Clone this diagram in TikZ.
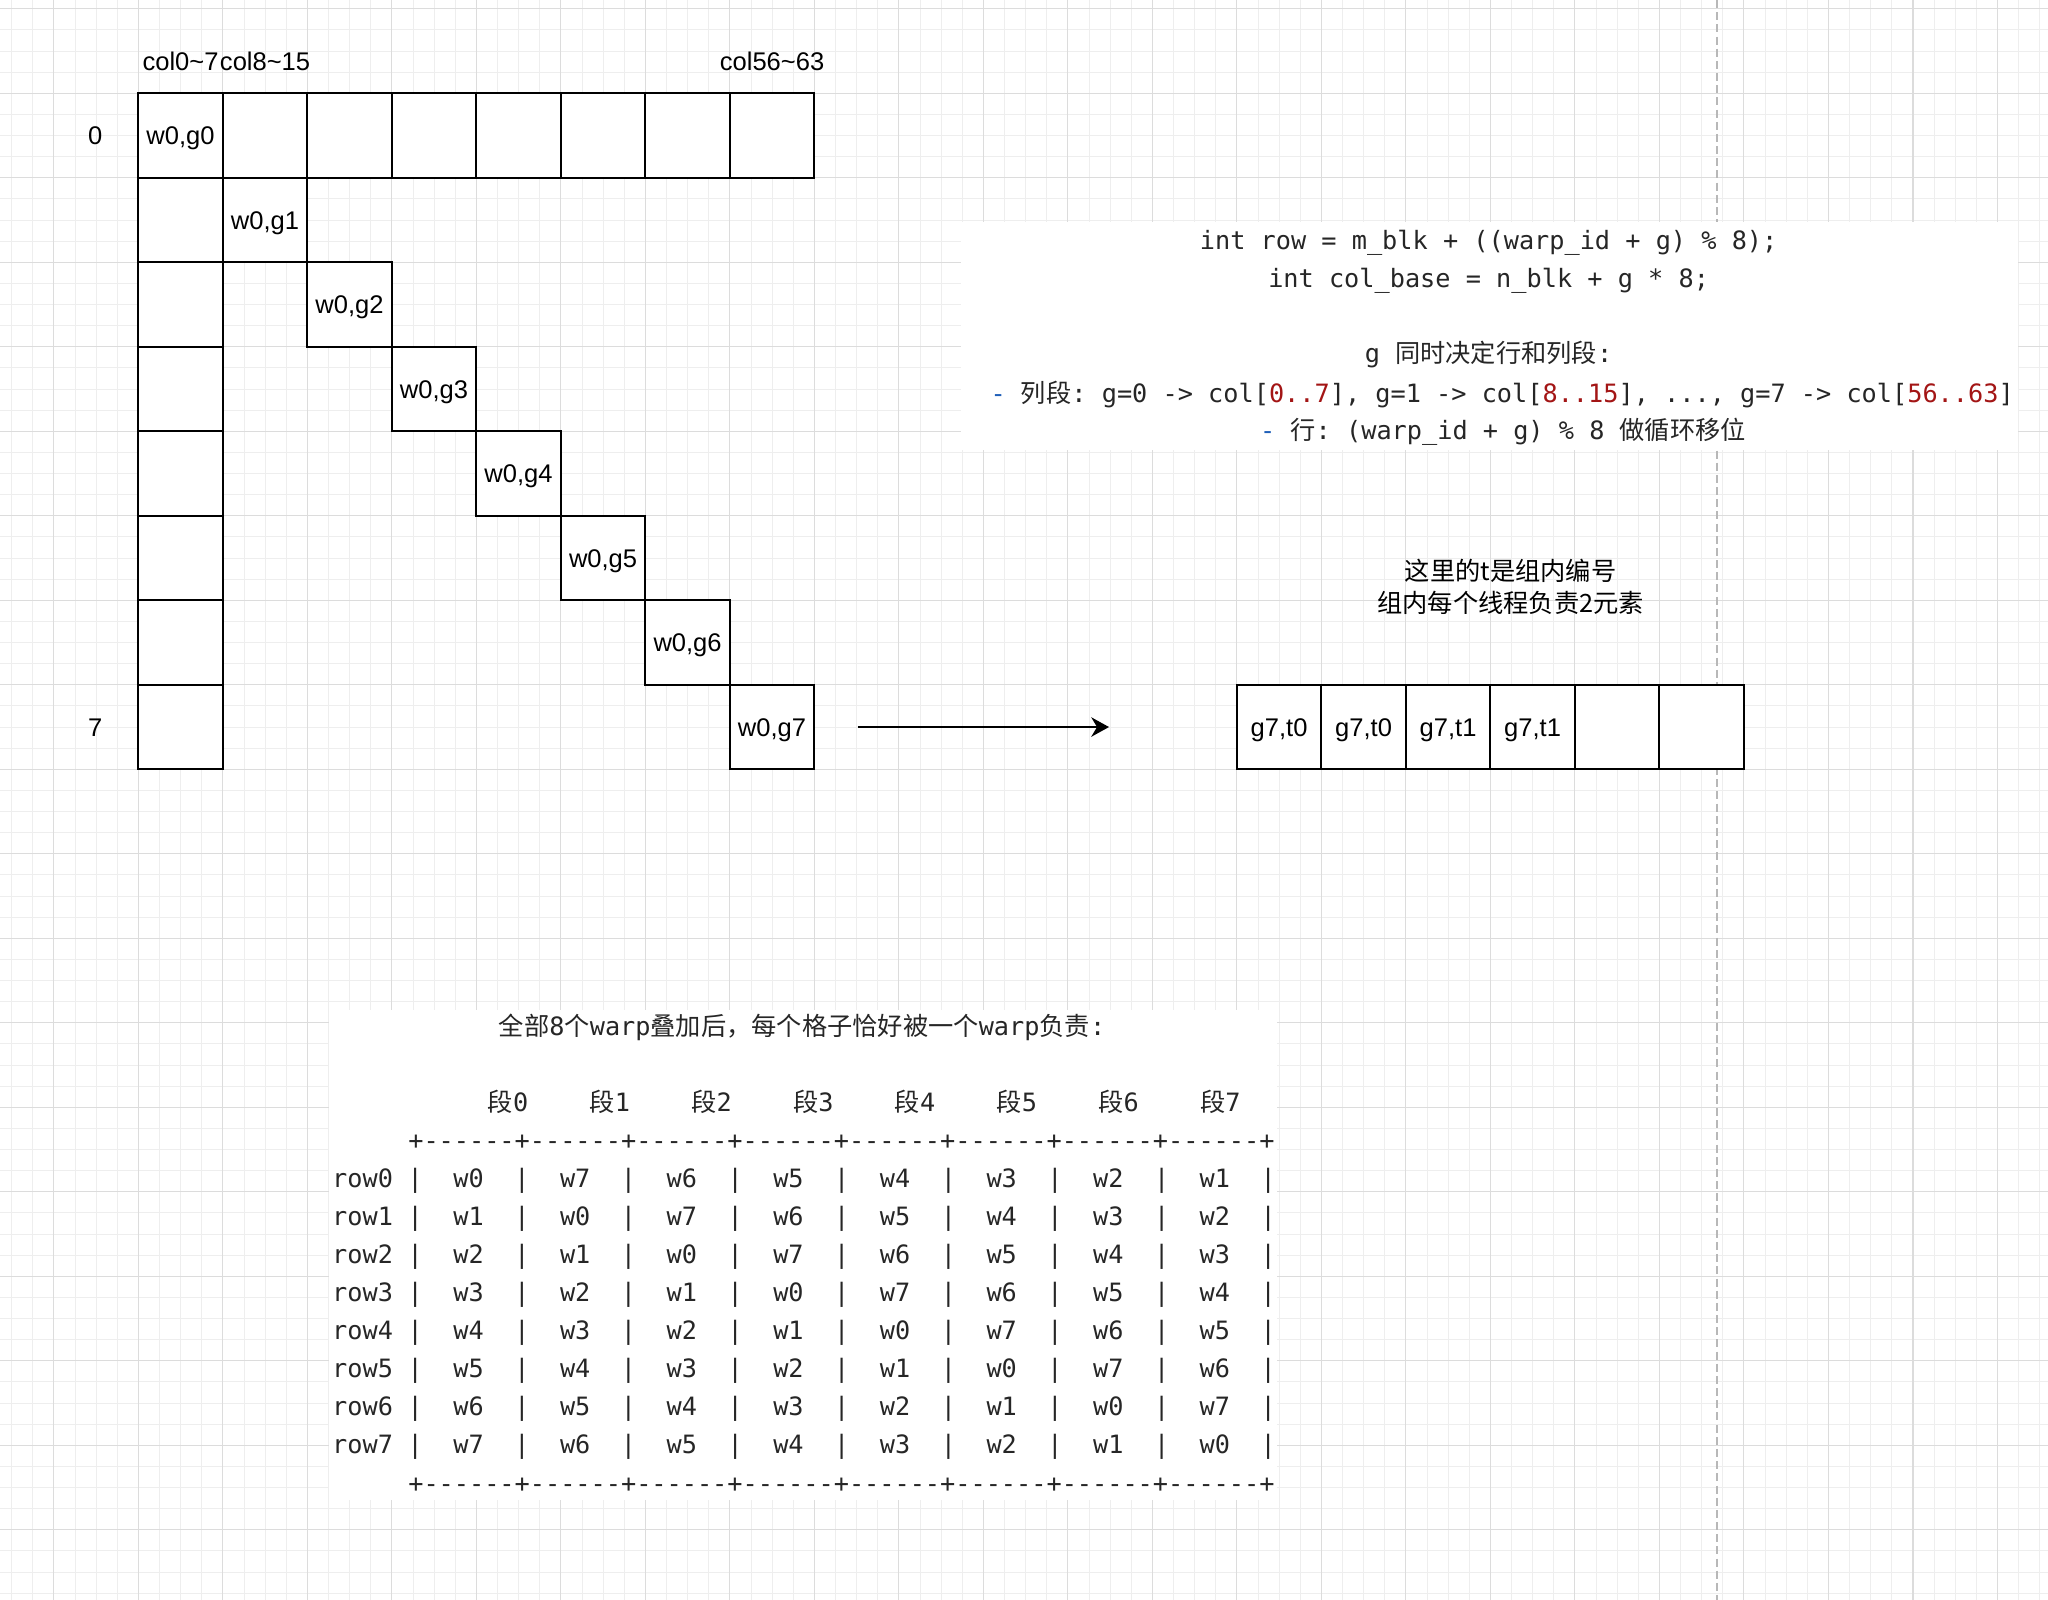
\documentclass[tikz,border=0pt]{standalone}
\usepackage{fontspec}
\setmainfont{Liberation Sans}
\setmonofont{DejaVu Sans Mono}
\newfontfamily\cjk{Noto Sans CJK SC}
\usetikzlibrary{arrows.meta}
\definecolor{codegray}{HTML}{262626}
\definecolor{codeblue}{HTML}{1F5FB8}
\definecolor{codered}{HTML}{A31515}
\definecolor{gridmajor}{HTML}{DCDCDC}
\definecolor{gridminor}{HTML}{EEEEEE}
\definecolor{dashgray}{HTML}{B8B8B8}
\begin{document}
\begin{tikzpicture}[x=1cm,y=-1cm,
    cellbox/.style={draw,fill=white,line width=0.7pt,minimum size=1cm,inner sep=0pt,
      font=\fontsize{8.6}{10}\selectfont,text height=6.2pt,text depth=0pt},
    lbl/.style={font=\fontsize{8.6}{10}\selectfont,inner sep=0pt,
      text height=6.2pt,text depth=0pt},
    note/.style={font=\fontsize{8.5}{10.5}\selectfont\cjk,align=center,inner sep=0pt},
    codetxt/.style={font=\fontsize{8.5}{10}\selectfont\ttfamily\frenchspacing,
      text=codegray,inner sep=0pt,text height=6.1pt,text depth=0pt},
    arrowline/.style={line width=0.6pt,-{Stealth[length=2.1mm,width=2.3mm]}}]
  \useasboundingbox (-1.637,-1.104) rectangle (22.600,17.831);
  % background grid
  \foreach \x in {-6,...,90}
    \draw[gridminor,line width=0.3pt] (\x/4,-1.104) -- (\x/4,17.831);
  \foreach \y in {-4,...,71}
    \draw[gridminor,line width=0.3pt] (-1.637,\y/4) -- (22.600,\y/4);
  \foreach \x in {-1,...,22}
    \draw[gridmajor,line width=0.45pt] (\x,-1.104) -- (\x,17.831);
  \foreach \y in {-1,...,17}
    \draw[gridmajor,line width=0.45pt] (-1.637,\y) -- (22.600,\y);
  \draw[dashgray,line width=0.5pt,dash pattern=on 2.7pt off 1.4pt] (18.68,-1.104) -- (18.68,17.831);
  \fill[white] (9.733,1.52) rectangle (22.24,4.22);
  \fill[white] (2.257,10.85) rectangle (13.47,16.65);

  % one warp, groups g0..g7
  \node[lbl] (colA) at (0.5,-0.38) {col0\textasciitilde 7};
  \node[lbl] (colB) at (1.5,-0.38) {col8\textasciitilde 15};
  \node[lbl] (colH) at (7.5,-0.38) {col56\textasciitilde 63};
  \node[lbl] (r0) at (-0.51,0.5) {0};
  \node[lbl] (r7) at (-0.51,7.5) {7};
  \node[cellbox] (c0-0) at (0.5,0.5) {w0,g0};
  \foreach \c in {1,...,7}
    \node[cellbox] (c0-\c) at (\c+0.5,0.5) {};
  \foreach \r in {1,...,7} {
    \node[cellbox] (c\r-0) at (0.5,\r+0.5) {};
    \node[cellbox] (c\r-\r) at (\r+0.5,\r+0.5) {w0,g\r};
  }

  % elements of g7
  \foreach \i/\t in {1/{g7,t0},2/{g7,t0},3/{g7,t1},4/{g7,t1},5/{},6/{}}
    \node[cellbox] (e\i) at (12.5+\i,7.5) {\t};
  \draw[arrowline] ([xshift=0.5cm]c7-7.east) -- ([xshift=-1.5cm]e1.west);
  \node[note] (tnote) at (16.24,5.84) {这里的t是组内编号\\组内每个线程负责2元素};

  % code
  \node[codetxt] (l1) at (15.98,1.74) {int row = m\_blk + ((warp\_id + g) \% 8);};
  \node[codetxt] (l2) at (15.98,2.19) {int col\_base = n\_blk + g * 8;};
  \node[codetxt] (l3) at (15.98,3.08) {g {\cjk 同时决定行和列段}:};
  \node[codetxt] (l4) at (16.14,3.55) {\textcolor{codeblue}{-} {\cjk 列段}: g=0 -> col[\textcolor{codered}{0..7}], g=1 -> col[\textcolor{codered}{8..15}], ..., g=7 -> col[\textcolor{codered}{56..63}]};
  \node[codetxt] (l5) at (16.15,3.99) {\textcolor{codeblue}{-} {\cjk 行}: (warp\_id + g) \% 8 {\cjk 做循环移位}};

  % all 8 warps
  \node[codetxt] (title) at (7.855,11.045) {{\cjk 全部}8{\cjk 个}warp{\cjk 叠加后，每个格子恰好被一个}warp{\cjk 负责}:};
  \foreach \k in {0,...,7}
    \node[codetxt] (h\k) at (4.376+1.2041*\k,11.942) {{\cjk 段}\k};
  \node[codetxt,anchor=west] (septop) at (3.188,12.389) {+------+------+------+------+------+------+------+------+};
  \node[codetxt,anchor=west] (sepbot) at (3.188,16.455) {+------+------+------+------+------+------+------+------+};
  \foreach \r in {0,...,7} {
    \node[codetxt,anchor=west] (row\r) at (2.287,12.838+0.4497*\r) {row\r};
    \foreach \k in {0,...,8}
      \node[codetxt] (p\r-\k) at (3.278+1.2617*\k,12.838+0.4497*\r) {|};
    \foreach \k in {0,...,7} {
      \pgfmathtruncatemacro{\w}{mod(\r-\k+8,8)}
      \node[codetxt] (v\r-\k) at (3.909+1.2617*\k,12.838+0.4497*\r) {w\w};
    }
  }
\end{tikzpicture}
\end{document}
